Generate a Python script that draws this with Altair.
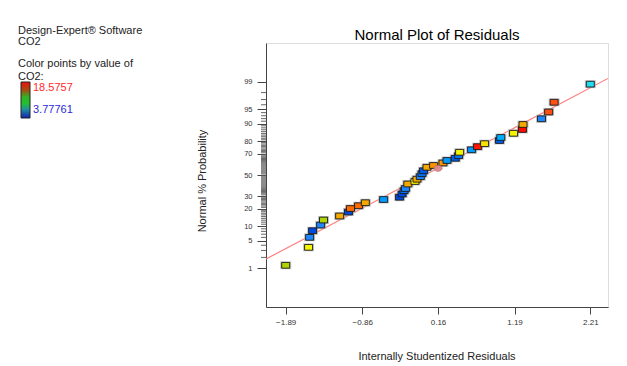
import altair as alt
import pandas as pd
from statistics import NormalDist

# ---- data ----
residuals = [-1.89, -1.582, -1.568, -1.528, -1.420, -1.381, -1.164, -1.045, -1.018, -0.909,
             -0.818, -0.572, -0.357, -0.323, -0.296, -0.277, -0.246, -0.150, -0.123, -0.078,
             -0.055, -0.034, 0.012, 0.101, 0.227, 0.281, 0.393, 0.437, 0.451, 0.612,
             0.693, 0.787, 0.988, 1.005, 1.177, 1.297, 1.304, 1.553, 1.649, 1.723, 2.21]
probability = [1.22, 3.57, 6.01, 8.24, 10.62, 13.09, 15.34, 17.80, 20.18, 22.19,
               24.48, 27.06, 28.99, 31.78, 34.76, 36.81, 41.13, 43.56, 45.82, 48.32,
               51.28, 54.18, 57.61, 59.37, 61.77, 64.12, 66.14, 68.48, 71.43, 73.50,
               75.99, 78.26, 80.51, 82.51, 85.08, 87.18, 89.60, 91.94, 94.19, 96.51, 98.82]
co2 = [12.0, 13.0, 6.0, 4.5, 6.0, 12.0, 15.0, 4.5, 16.5, 16.5,
       15.0, 6.5, 4.5, 4.5, 5.5, 6.0, 15.0, 13.0, 15.0, 6.0,
       5.5, 5.0, 15.0, 15.5, 15.5, 6.5, 5.0, 5.5, 13.0, 6.5,
       18.4, 13.5, 5.0, 7.0, 13.0, 18.5, 15.0, 6.0, 17.0, 17.0, 8.5]

marked_residual = [0.161]
marked_probability = [56.63]

fit_residual = [-2.155, 2.448]
fit_probability = [1.809, 99.196]

x_ticks = [-1.89, -0.86, 0.16, 1.19, 2.21]
y_major = [1, 5, 10, 20, 30, 50, 70, 80, 90, 95, 99]
y_minor = [p for p in range(2, 99) if p not in y_major]

co2_max_label = "18.5757"
co2_min_label = "3.77761"

FONT = "Liberation Sans"
nd = NormalDist()
y_major_z = [nd.inv_cdf(p / 100) for p in y_major]

W, H = 342, 264
xscale = alt.Scale(domain=[-2.155, 2.448], nice=False, zero=False)
yscale = alt.Scale(domain=[-3.29, 3.29], nice=False, zero=False)

xaxis = alt.Axis(values=x_ticks, format=".2f", title=None, grid=False,
                 tickSize=7, labelPadding=4, labelFontSize=8, labelColor="#333",
                 domainColor="#444", tickColor="#444", labelFont=FONT)
yaxis = alt.Axis(values=y_major_z, labelExpr="round(100*cumulativeNormal(datum.value))",
                 title=None, grid=False, tickSize=9, labelPadding=5, labelFontSize=7.5,
                 labelColor="#333", domainColor="#444", tickColor="#444", labelFont=FONT)

df = pd.DataFrame({"r": residuals, "p": probability, "co2": co2})
df_mark = pd.DataFrame({"r": marked_residual, "p": marked_probability})
df_fit = pd.DataFrame({"r": fit_residual, "p": fit_probability})
df_minor = pd.DataFrame({"p": y_minor})
one = pd.DataFrame({"a": [0]})

zcalc = {"z": "quantileNormal(datum.p/100)"}
X = alt.X("r:Q", scale=xscale, axis=xaxis)
Y = alt.Y("z:Q", scale=yscale, axis=yaxis)

RECT = "M-1,-0.72H1V0.72H-1Z"

fit = alt.Chart(df_fit).transform_calculate(**zcalc).mark_line(
    color="#ff7f7f", strokeWidth=1.2, clip=True).encode(x=X, y=Y)

minor = alt.Chart(df_minor).transform_calculate(**zcalc).mark_rule(
    color="#666", strokeWidth=1).encode(
    x=alt.value(-5), x2=alt.value(0), y=Y)

halo = alt.Chart(df).transform_calculate(**zcalc).mark_point(
    shape=RECT, size=121, filled=True, color="#b5b5b5", opacity=0.8).encode(x=X, y=Y)

color_scale = alt.Scale(
    domain=[3.77761, 6, 8.5, 10.5, 12, 13, 15, 17, 18.5757],
    range=["#1428c8", "#1e86ff", "#22dcf0", "#22c822", "#b0d400", "#f5f500",
           "#f5a800", "#ff5010", "#ff0000"])
pts = alt.Chart(df).transform_calculate(**zcalc).mark_point(
    shape=RECT, size=64, filled=True, stroke="#1a1a1a", strokeWidth=0.9, opacity=1).encode(
    x=X, y=Y, fill=alt.Fill("co2:Q", scale=color_scale, legend=None))

marked = alt.Chart(df_mark).transform_calculate(**zcalc).mark_point(
    shape="M-1,0A1,0.75 0 1,0 1,0A1,0.75 0 1,0 -1,0Z", size=64, filled=True,
    fill="#e08a8a", stroke="#b86a6a", strokeWidth=0.8, opacity=0.95).encode(x=X, y=Y)


def txt(s, x, y, size=11, color="#222", angle=0, align="left", baseline="middle"):
    return alt.Chart(one).mark_text(
        text=s, font=FONT, fontSize=size, color=color, angle=angle,
        align=align, baseline=baseline).encode(x=alt.value(x), y=alt.value(y))


title = txt("Normal Plot of Residuals", W / 2, -3, size=15, color="#000",
            align="center", baseline="alphabetic")
xtitle = txt("Internally Studentized Residuals", W / 2, 313.5, size=11, align="center")
ytitle = txt("Normal % Probability", -63, 138, size=11, angle=270, align="center")

leg1 = txt("Design-Expert\u00ae Software", -248, -12)
leg2 = txt("CO2", -248, -1)
leg3 = txt("Color points by value of", -248, 20.5)
leg4 = txt("CO2:", -248, 34)
leg_hi = txt(co2_max_label, -233, 44.5, color="#ff2a2a")
leg_lo = txt(co2_min_label, -233, 67, color="#2a2ad8")

grad = alt.LinearGradient(
    gradient="linear", x1=0, x2=0, y1=0, y2=1,
    stops=[alt.GradientStop(color="#ee1010", offset=0),
           alt.GradientStop(color="#a84a10", offset=0.22),
           alt.GradientStop(color="#30b424", offset=0.42),
           alt.GradientStop(color="#22c030", offset=0.6),
           alt.GradientStop(color="#2290a0", offset=0.76),
           alt.GradientStop(color="#1222b0", offset=1)])
bar = alt.Chart(one).mark_rect(fill=grad, stroke="#222", strokeWidth=1).encode(
    x=alt.value(-245), x2=alt.value(-236), y=alt.value(39), y2=alt.value(75))

chart = alt.layer(
    minor, fit, halo, pts, marked, title, xtitle, ytitle,
    leg1, leg2, leg3, leg4, leg_hi, leg_lo, bar
).properties(
    width=W, height=H,
    autosize=alt.AutoSizeParams(type="none"),
    padding={"left": 258, "top": 35, "right": 11, "bottom": 57},
).configure_view(stroke="#666", strokeWidth=1).configure(background="white")

chart.save("out.html", embed_options={"renderer": "svg", "actions": False})
